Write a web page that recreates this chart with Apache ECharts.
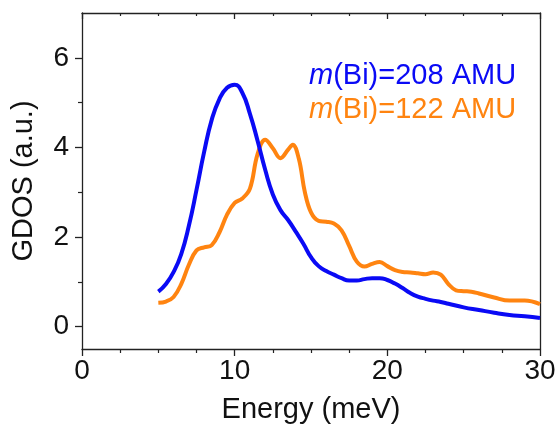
<!DOCTYPE html>
<html>
<head>
<meta charset="utf-8">
<script src="https://cdn.jsdelivr.net/npm/echarts@6/dist/echarts.min.js"></script>
<style>
  html, body { margin: 0; padding: 0; background: #fff; }
  #chart { width: 556px; height: 424px; }
</style>
</head>
<body>
<div id="chart"></div>
<script>
// Generalized density of states for two Bi masses
var energyHeavy = [5.0, 5.5, 6.0, 6.5, 7.0, 7.5, 8.0, 8.5, 9.0, 9.5, 10.0, 10.5, 11.0, 11.5, 12.0, 12.5, 13.0, 13.5, 14.0, 14.5, 15.0, 15.5, 16.0, 16.5, 17.0, 17.5, 18.0, 18.5, 19.0, 19.5, 20.0, 20.5, 21.0, 21.5, 22.0, 22.5, 23.0, 23.5, 24.0, 25.0, 26.0, 27.0, 28.0, 29.0, 30.0];
var gdosHeavy = [0.78, 0.95, 1.22, 1.62, 2.25, 3.05, 3.9, 4.62, 5.08, 5.33, 5.4, 5.22, 4.75, 4.15, 3.5, 2.95, 2.6, 2.38, 2.12, 1.85, 1.55, 1.35, 1.24, 1.16, 1.08, 1.03, 1.03, 1.06, 1.08, 1.08, 1.04, 0.96, 0.86, 0.75, 0.67, 0.62, 0.58, 0.55, 0.51, 0.43, 0.37, 0.31, 0.26, 0.23, 0.19];

var energyLight = [5.0, 5.5, 6.0, 6.5, 7.0, 7.5, 8.0, 8.5, 9.0, 9.5, 10.0, 10.5, 11.0, 11.5, 12.0, 12.5, 13.0, 13.5, 13.8, 14.2, 14.6, 15.0, 15.5, 16.0, 16.5, 17.0, 17.5, 18.0, 18.5, 19.0, 19.5, 20.0, 20.5, 21.0, 21.5, 22.0, 22.5, 23.0, 23.5, 24.0, 24.5, 25.0, 25.5, 26.0, 27.0, 28.0, 29.0, 30.0];
var gdosLight = [0.53, 0.56, 0.66, 0.95, 1.38, 1.7, 1.77, 1.82, 2.1, 2.5, 2.76, 2.86, 3.08, 3.85, 4.17, 3.98, 3.76, 3.95, 4.06, 3.75, 3.0, 2.55, 2.36, 2.34, 2.3, 2.15, 1.8, 1.45, 1.34, 1.4, 1.44, 1.35, 1.26, 1.22, 1.21, 1.19, 1.17, 1.21, 1.16, 0.95, 0.81, 0.79, 0.78, 0.74, 0.65, 0.58, 0.58, 0.5];

var seriesNames = ['m(Bi)=208 AMU', 'm(Bi)=122 AMU'];
var yMajorTicks = [0, 2, 4, 6];
var yMinorTicks = [1, 3, 5];

var FONT = "'Liberation Sans', Arial, sans-serif";
var BLUE = '#0a0af5';
var ORANGE = '#ff8410';

function pairs(xs, ys) {
  return xs.map(function (x, i) { return [x, ys[i]]; });
}

var chart = echarts.init(document.getElementById('chart'));
chart.setOption({
  animation: false,
  backgroundColor: '#fff',
  grid: { left: 82, right: 16, top: 13, bottom: 75, containLabel: false, outerBoundsMode: 'none' },
  xAxis: [
    {
      type: 'value', min: 0, max: 30, interval: 10, position: 'bottom',
      name: 'Energy (meV)', nameLocation: 'middle', nameGap: 46,
      nameTextStyle: { fontFamily: FONT, fontSize: 29, color: '#111' },
      axisLine: { show: true, onZero: false, lineStyle: { color: '#222', width: 1.3 } },
      axisTick: { show: true, length: 7, lineStyle: { color: '#222', width: 1.3 } },
      minorTick: { show: true, splitNumber: 4, length: 4, lineStyle: { color: '#222', width: 1.2 } },
      axisLabel: { fontFamily: FONT, fontSize: 28, color: '#111', margin: 8 },
      splitLine: { show: false }
    },
    {
      type: 'value', min: 0, max: 30, interval: 10, position: 'top',
      axisLine: { show: true, onZero: false, lineStyle: { color: '#222', width: 1.3 } },
      axisTick: { show: true, inside: true, length: 6, lineStyle: { color: '#222', width: 1.3 } },
      minorTick: { show: true, splitNumber: 4, length: 3, lineStyle: { color: '#222', width: 1.2 } },
      axisLabel: { show: false },
      splitLine: { show: false }
    }
  ],
  yAxis: [
    {
      type: 'value', min: -0.5, max: 7, position: 'left',
      name: 'GDOS (a.u.)', nameLocation: 'middle', nameGap: 44,
      nameTextStyle: { fontFamily: FONT, fontSize: 29, color: '#111' },
      axisLine: { show: true, onZero: false, lineStyle: { color: '#222', width: 1.3 } },
      axisTick: { show: true, length: 7, customValues: yMajorTicks, lineStyle: { color: '#222', width: 1.3 } },
      axisLabel: { fontFamily: FONT, fontSize: 28, color: '#111', margin: 13, customValues: yMajorTicks },
      splitLine: { show: false }
    },
    {
      type: 'value', min: -0.5, max: 7, position: 'left',
      axisLine: { show: false },
      axisTick: { show: true, length: 4, customValues: yMinorTicks, lineStyle: { color: '#222', width: 1.2 } },
      axisLabel: { show: false },
      splitLine: { show: false }
    },
    {
      type: 'value', min: -0.5, max: 7, position: 'right',
      axisLine: { show: true, onZero: false, lineStyle: { color: '#222', width: 1.3 } },
      axisTick: { show: false },
      axisLabel: { show: false },
      splitLine: { show: false }
    }
  ],
  graphic: [
    {
      type: 'text', left: 309, top: 61,
      style: {
        text: '{i|m}(Bi)=208 AMU',
        fill: BLUE, font: '29px ' + FONT,
        rich: { i: { fontStyle: 'italic', fontFamily: FONT, fontSize: 29, fill: BLUE } }
      }
    },
    {
      type: 'text', left: 309, top: 95,
      style: {
        text: '{i|m}(Bi)=122 AMU',
        fill: ORANGE, font: '29px ' + FONT,
        rich: { i: { fontStyle: 'italic', fontFamily: FONT, fontSize: 29, fill: ORANGE } }
      }
    }
  ],
  series: [
    {
      name: seriesNames[0], type: 'line', xAxisIndex: 0, yAxisIndex: 0,
      data: pairs(energyHeavy, gdosHeavy),
      smooth: 0.5, showSymbol: false, z: 3,
      lineStyle: { color: BLUE, width: 4 }
    },
    {
      name: seriesNames[1], type: 'line', xAxisIndex: 0, yAxisIndex: 0,
      data: pairs(energyLight, gdosLight),
      smooth: 0.4, showSymbol: false, z: 2,
      lineStyle: { color: ORANGE, width: 4 }
    }
  ]
});
</script>
</body>
</html>
